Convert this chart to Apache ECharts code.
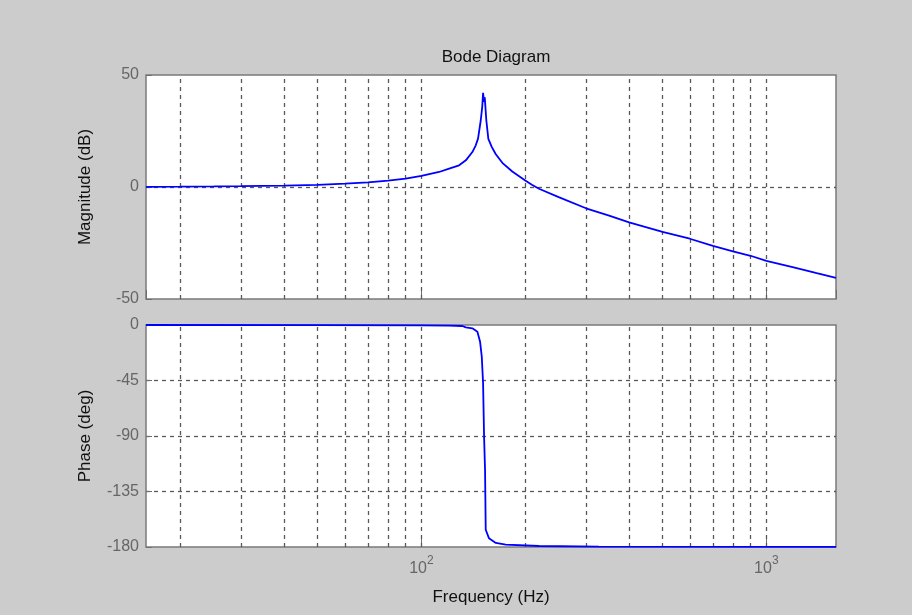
<!DOCTYPE html>
<html>
<head>
<meta charset="utf-8">
<script src="https://cdn.jsdelivr.net/npm/echarts@6/dist/echarts.min.js"></script>
<style>
html,body{margin:0;padding:0;background:#cccccc;}
#chart{width:912px;height:615px;}
</style>
</head>
<body>
<div id="chart"></div>
<script>
// Magnitude response (Hz, dB)
const freqMag = [15.9, 20, 25, 30, 40, 50, 60, 70, 80, 90, 100, 112.5, 120.3, 128.6, 134.5, 140.5, 143.7, 145.9, 148.6, 150.1, 150.9, 151.9, 152.6, 154.2, 156.3, 160, 164.3, 171.6, 183.4, 200, 209, 220, 250, 300, 350, 400, 500, 600, 700, 800, 900, 1000, 1200, 1400, 1592];
const magDb = [0.1, 0.15, 0.24, 0.35, 0.62, 0.99, 1.47, 2.07, 2.83, 3.75, 5.0, 6.7, 8.2, 9.7, 11.9, 15.6, 18.6, 21.6, 29.8, 36, 42, 38, 40, 29.8, 21.5, 17.8, 14.6, 10.8, 6.9, 2.9, 1.0, -0.9, -4.5, -9.5, -12.8, -15.8, -20.0, -23.1, -26.3, -28.7, -30.7, -33.0, -35.9, -38.5, -40.6];
// Phase response (Hz, deg)
const freqPh = [15.9, 50, 100, 120, 131.4, 134.5, 140.5, 145.3, 147.9, 149.6, 150.9, 151.9, 152.9, 153.6, 157.0, 164.3, 175.5, 219.2, 326.8, 1592];
const phDeg = [0, -0.1, -0.3, -0.5, -0.8, -1.9, -2.7, -5.4, -13.5, -25.7, -47, -90, -117.7, -166, -173, -176.7, -178, -179.2, -179.7, -179.9];
// Grid frequencies (log grid) and axis ticks
const gridFreqs = [20, 30, 40, 50, 60, 70, 80, 90, 100, 200, 300, 400, 500, 600, 700, 800, 900, 1000];
const freqMin = 15.9, freqMax = 1592;
const magTicks = [-50, 0, 50];
const phaseTicks = [-180, -135, -90, -45, 0];

const FONT = 'Liberation Sans, Arial, sans-serif';
const GRIDCOLOR = '#595959';
const chart = echarts.init(document.getElementById('chart'), null, {renderer: 'canvas'});

function pairs(xs, ys) { return xs.map((x, i) => [x, ys[i]]); }
const vLines = {
  silent: true, symbol: 'none', label: {show: false},
  lineStyle: {color: GRIDCOLOR, type: [4, 4], width: 1.3},
  data: gridFreqs.map(f => ({xAxis: f}))
};

const xCommon = {
  type: 'log', logBase: 10, min: freqMin, max: freqMax,
  position: 'bottom',
  axisLine: {show: false, onZero: false},
  splitLine: {show: false},
  axisTick: {show: true, inside: true, length: 9, lineStyle: {color: '#707070', width: 1}}
};
const yCommon = {
  type: 'value',
  axisLine: {show: false, onZero: false},
  axisTick: {show: true, inside: true, length: 6, lineStyle: {color: '#707070'}},
  axisLabel: {color: '#666', fontSize: 16, fontFamily: FONT, margin: 7},
  splitLine: {show: true, showMinLine: false, showMaxLine: false, lineStyle: {color: GRIDCOLOR, type: [4, 4], width: 1.3}},
  nameLocation: 'middle', nameRotate: 90, nameGap: 52,
  nameTextStyle: {color: '#111', fontSize: 17, fontFamily: FONT}
};

chart.setOption({
  animation: false,
  backgroundColor: '#cccccc',
  title: {
    text: 'Bode Diagram', left: 491, top: 44, textAlign: 'center',
    textStyle: {color: '#111', fontSize: 17, fontWeight: 'normal', fontFamily: FONT}
  },
  grid: [
    {left: 146, top: 75, width: 690, height: 224, show: true, backgroundColor: '#fff', borderColor: '#7a7a7a', borderWidth: 1.5},
    {left: 146, top: 325, width: 690, height: 222, show: true, backgroundColor: '#fff', borderColor: '#7a7a7a', borderWidth: 1.5}
  ],
  xAxis: [
    Object.assign({}, xCommon, {gridIndex: 0, axisLabel: {show: false}}),
    Object.assign({}, xCommon, {
      gridIndex: 1,
      name: 'Frequency (Hz)', nameLocation: 'middle', nameGap: 42,
      nameTextStyle: {color: '#111', fontSize: 17, fontFamily: FONT},
      axisLabel: {
        show: true, margin: 8, showMinLabel: false, showMaxLabel: false,
        formatter: function (v) {
          const e = Math.log10(v);
          if (Math.abs(e - Math.round(e)) > 1e-6) return '';
          return '{b|10}{s|' + Math.round(e) + '}';
        },
        rich: {
          b: {color: '#666', fontSize: 16, fontFamily: FONT, lineHeight: 22, verticalAlign: 'bottom'},
          s: {color: '#666', fontSize: 12, fontFamily: FONT, lineHeight: 22, verticalAlign: 'top'}
        }
      }
    })
  ],
  yAxis: [
    Object.assign({}, yCommon, {gridIndex: 0, min: magTicks[0], max: magTicks[2], interval: 50, name: 'Magnitude (dB)'}),
    Object.assign({}, yCommon, {gridIndex: 1, min: phaseTicks[0], max: phaseTicks[4], interval: 45, name: 'Phase (deg)'})
  ],
  series: [
    {
      type: 'line', xAxisIndex: 0, yAxisIndex: 0, data: pairs(freqMag, magDb),
      showSymbol: false, lineStyle: {color: '#0000ff', width: 1.8}, z: 5,
      markLine: vLines
    },
    {
      type: 'line', xAxisIndex: 1, yAxisIndex: 1, data: pairs(freqPh, phDeg),
      showSymbol: false, lineStyle: {color: '#0000ff', width: 1.8}, z: 5,
      markLine: vLines
    }
  ]
});
</script>
</body>
</html>
